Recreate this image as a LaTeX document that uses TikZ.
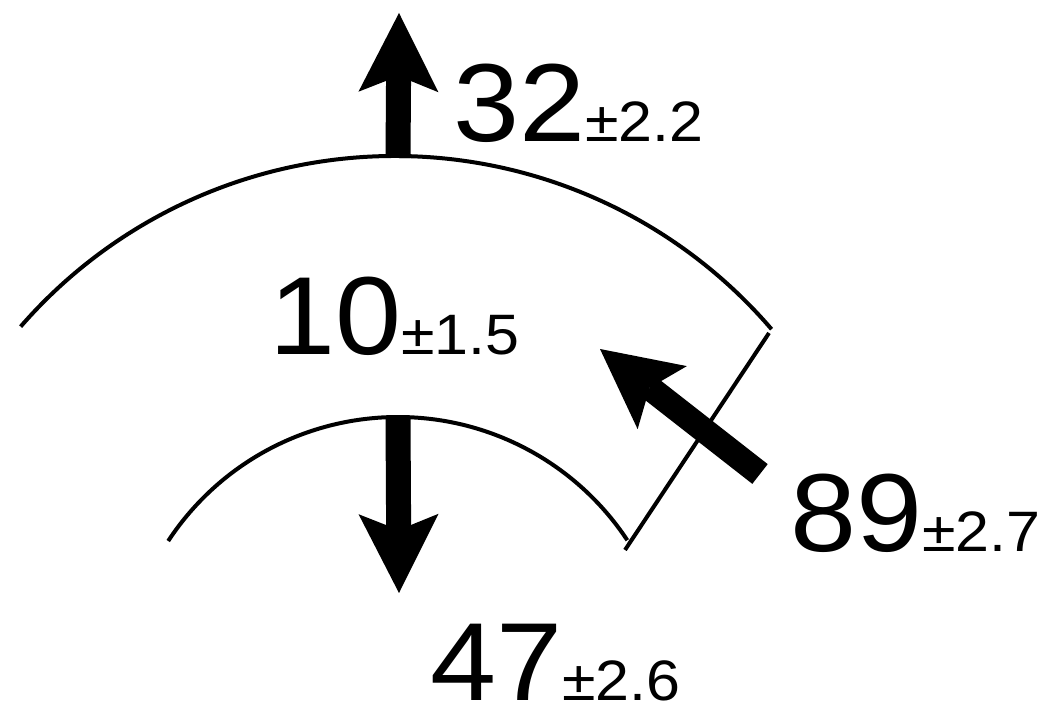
\documentclass[tikz,border=0pt]{standalone}
\usepackage{fontspec}
\setmainfont{Liberation Sans}[FakeStretch=1.07]
\usetikzlibrary{arrows.meta}
\tikzset{rim/.style={line width=4bp},flux/.style={line width=25bp,-{Stealth[length=79bp,width=80bp,inset=16bp,line width=0pt]}},val/.style={inner sep=0pt,anchor=base west}}
\newcommand\fluxval[2]{{\fontsize{111bp}{111bp}\selectfont#1}{\fontsize{57bp}{57bp}\selectfont±#2}}

\begin{document}
\begin{tikzpicture}[x=1bp,y=1bp]
\useasboundingbox(0,0)rectangle(1043,701);
% arcs of the band
\coordinate(oc)at(395,49);\coordinate(ic)at(398,9);
\draw[rim](oc)++(139:496)arc[start angle=139,end angle=40.6,radius=496];
\draw[rim](ic)++(146.7:275)arc[start angle=146.7,end angle=33.5,radius=275];
\coordinate(oend)at(769,368);\coordinate(iend)at(625,151);
\draw[rim](oend)--(iend);
% fluxes
\coordinate(otop)at(398,543);\coordinate(up)at(399,688);
\coordinate(itop)at(398,283);\coordinate(down)at(399,108);
\coordinate(tail)at(760,227);\coordinate(inflow)at(600,352);
\draw[flux](otop)--(up);\draw[flux](itop)--(down);\draw[flux](tail)--(inflow);
% values
\node[val](out)at(453,559){\fluxval{32}{2.2}};
\node[val](pool)at(269,346){\fluxval{10}{1.5}};
\node[val](in)at(790,149){\fluxval{89}{2.7}};
\node[val](loss)at(430,0.5){\fluxval{47}{2.6}};
\end{tikzpicture}
\end{document}
